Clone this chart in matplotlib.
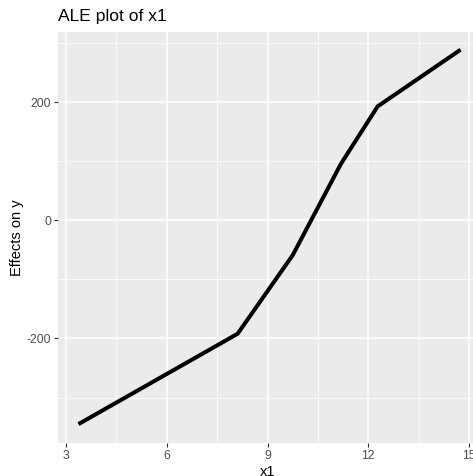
import matplotlib.pyplot as plt
import numpy as np

plt.rcParams['font.family'] = ['Liberation Sans', 'DejaVu Sans']
plt.rcParams['axes.unicode_minus'] = False

x1 = [3.37, 8.11, 9.75, 11.19, 12.28, 14.75]
effect = [-345, -192, -59, 96, 193, 289]

xticks = [3, 6, 9, 12, 15]
yticks = [-200, 0, 200]

fig = plt.figure(figsize=(4.73, 4.76), dpi=100)
ax = fig.add_axes([58 / 473, 33 / 476, 419 / 473, 411 / 476])
ax.set_facecolor('#EBEBEB')
for s in ax.spines.values():
    s.set_visible(False)

ax.set_xlim(2.76, 15.24)
ax.set_ylim(-377, 319)

# ggplot style grid
ax.set_xticks(xticks)
ax.set_yticks(yticks)
ax.set_xticks([4.5, 7.5, 10.5, 13.5], minor=True)
ax.set_yticks([-300, -100, 100, 300], minor=True)
ax.grid(which='major', color='white', linewidth=1.1)
ax.grid(which='minor', color='white', linewidth=0.55)
ax.set_axisbelow(True)
ax.tick_params(which='minor', length=0)
ax.tick_params(which='major', length=3, width=0.8, color='#333333',
               labelcolor='#4D4D4D', labelsize=8.8, pad=2)

ax.plot(x1, effect, color='black', linewidth=2.9, solid_capstyle='butt')

ax.set_xlabel('x1', fontsize=10.5, labelpad=2)
ax.set_ylabel('Effects on y', fontsize=10.5)
ax.yaxis.set_label_coords(-0.08, 0.5)
ax.set_title('ALE plot of x1', loc='left', fontsize=12.6, pad=8)

fig.savefig('out.png', dpi=100)
